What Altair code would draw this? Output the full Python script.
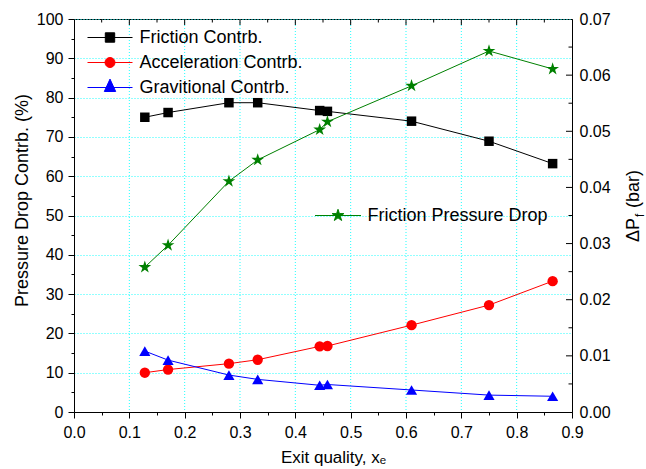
import altair as alt
import pandas as pd

FONT = "Liberation Sans"

# ---------------- data ----------------
x_exit = [0.128, 0.17, 0.28, 0.332, 0.444, 0.458, 0.61, 0.75, 0.865]
friction_pct = [75.0, 76.2, 78.7, 78.7, 76.7, 76.5, 74.0, 68.9, 63.2]
accel_pct = [10.0, 10.8, 12.3, 13.3, 16.7, 16.8, 22.1, 27.2, 33.3]
grav_pct = [15.5, 13.2, 9.4, 8.3, 6.8, 7.0, 5.6, 4.3, 4.0]
dp_friction = [0.0258, 0.0297, 0.0411, 0.0449, 0.0503, 0.0517, 0.0581, 0.0643, 0.0611]

series_left = ["Friction Contrb.", "Acceleration Contrb.", "Gravitional Contrb."]
series_right = "Friction Pressure Drop"
colors_left = ["#000000", "#ff0000", "#0000ff"]
color_right = "#008000"

x_ticks = [0.0, 0.05, 0.1, 0.15, 0.2, 0.25, 0.3, 0.35, 0.4, 0.45, 0.5,
           0.55, 0.6, 0.65, 0.7, 0.75, 0.8, 0.85, 0.9]
x_top_major = [0.1, 0.2, 0.3, 0.4, 0.5, 0.6, 0.7, 0.8]
x_top_minor = [0.05, 0.15, 0.25, 0.35, 0.45, 0.55, 0.65, 0.75, 0.85]
y_left_ticks = [0, 5, 10, 15, 20, 25, 30, 35, 40, 45, 50, 55, 60, 65, 70,
                75, 80, 85, 90, 95, 100]
y_right_labels = [0.0, 0.01, 0.02, 0.03, 0.04, 0.05, 0.06, 0.07]
y_right_major = [0.01, 0.02, 0.03, 0.04, 0.05, 0.06]
y_right_minor = [0.005, 0.015, 0.025, 0.035, 0.045, 0.055, 0.065]

W, H = 498, 393

rows = []
for name, vals in zip(series_left, [friction_pct, accel_pct, grav_pct]):
    for xv, v in zip(x_exit, vals):
        rows.append({"x": xv, "v": v, "series": name})
df_left = pd.DataFrame(rows)
df_right = pd.DataFrame({"x": x_exit, "dp": dp_friction, "series": [series_right] * len(x_exit)})

# ---------------- shapes ----------------
STAR = ("M0,-1L0.225,-0.309L0.951,-0.309L0.363,0.118L0.588,0.809L0,0.382"
        "L-0.588,0.809L-0.363,0.118L-0.951,-0.309L-0.225,-0.309Z")
LEG_SQ = "M-2.25,0H2.25M-0.47,-0.47H0.47V0.47H-0.47Z"
LEG_CI = "M-2.25,0H2.25M0.5,0A0.5,0.5,0,1,1,-0.5,0A0.5,0.5,0,1,1,0.5,0Z"
LEG_TR = "M-2.25,0H2.25M0,-0.84L0.57,0.4L-0.57,0.4Z"
LEG_ST = ("M-2.3,0H2.3M0,-0.62L0.14,-0.19L0.59,-0.19L0.225,0.073L0.365,0.5L0,0.237"
          "L-0.365,0.5L-0.225,0.073L-0.59,-0.19L-0.14,-0.19Z")

shape_expr = ("datum.value === '%s' ? '%s' : datum.value === '%s' ? '%s' : '%s'"
              % (series_left[0], LEG_SQ, series_left[1], LEG_CI, LEG_TR))
color_expr = ("datum.value === '%s' ? '%s' : datum.value === '%s' ? '%s' : '%s'"
              % (series_left[0], colors_left[0], series_left[1], colors_left[1], colors_left[2]))

GRID = "#22ffff"

x_scale = alt.Scale(domain=[0, 0.9], nice=False, zero=False)
yl_scale = alt.Scale(domain=[0, 100], nice=False, zero=False)
yr_scale = alt.Scale(domain=[0, 0.07], nice=False, zero=False)

x_major_test = "round(datum.value*100) % 10 === 0"
x_axis = alt.Axis(
    values=x_ticks,
    labelExpr="round(datum.value*100) % 10 === 0 ? format(datum.value, '.1f') : ''",
    tickSize={"condition": {"test": x_major_test, "value": 6}, "value": 3},
    grid=False,
    labelFont=FONT, labelFontSize=16, labelColor="black", labelPadding=6,
    labelFlush=False, labelOverlap=False,
    title="Exit quality, xₑ", titleFont=FONT, titleFontSize=17,
    titleFontWeight="normal", titleColor="black",
    titleX=259, titleY=50, titleBaseline="alphabetic", titleAlign="center",
    domainColor="black", tickColor="black",
)

yl_test = "datum.value % 10 === 0"
yl_axis = alt.Axis(
    values=y_left_ticks,
    labelExpr="datum.value % 10 === 0 ? datum.label : ''",
    tickSize={"condition": {"test": yl_test, "value": 6}, "value": 3},
    gridOpacity={"condition": {"test": yl_test, "value": 1}, "value": 0},
    grid=True, gridColor=GRID, gridDash=[1, 2], gridWidth=1,
    labelFont=FONT, labelFontSize=16, labelColor="black", labelPadding=5,
    labelOverlap=False, labelFlush=False,
    title="Pressure Drop Contrb. (%)", titleFont=FONT, titleFontSize=18,
    titleFontWeight="normal", titleColor="black",
    titleX=-52, titleY=181, titleAngle=270, titleAlign="center", titleBaseline="middle",
    domainColor="black", tickColor="black",
)

yr_axis = alt.Axis(
    orient="right", values=y_right_labels, format=".2f",
    ticks=False, tickSize=0, grid=False,
    labelFont=FONT, labelFontSize=16, labelColor="black", labelPadding=7,
    labelOverlap=False, labelFlush=False,
    title=None, domainColor="black",
)

legend_left = alt.Legend(
    orient="none", legendX=25.5, legendY=8, title=None, padding=0,
    labelFont=FONT, labelFontSize=18, labelColor="black", labelOffset=19, labelLimit=0,
    symbolSize=400, rowPadding=5, symbolStrokeWidth=1, symbolOpacity=1,
    symbolType=alt.ExprRef(expr=shape_expr),
    symbolFillColor=alt.ExprRef(expr=color_expr),
    symbolStrokeColor=alt.ExprRef(expr=color_expr),
)

legend_right = alt.Legend(
    orient="none", legendX=253.5, legendY=186, title=None, padding=0,
    labelFont=FONT, labelFontSize=18, labelColor="black", labelOffset=19, labelLimit=0,
    symbolSize=400, symbolStrokeWidth=1, symbolOpacity=1,
    symbolType=LEG_ST, symbolFillColor=color_right, symbolStrokeColor=color_right,
)

# vertical grid lines at the major x ticks
vgrid = alt.Chart(pd.DataFrame({"t": x_top_major})).mark_rule(
    color=GRID, strokeWidth=1, strokeDash=[1, 2]
).encode(x=alt.X("t:Q", scale=x_scale, axis=x_axis), y=alt.value(0), y2=alt.value(H))

cscale_left = alt.Scale(domain=series_left, range=colors_left)

base_left = alt.Chart(df_left).encode(
    x=alt.X("x:Q", scale=x_scale, axis=x_axis),
    y=alt.Y("v:Q", scale=yl_scale, axis=yl_axis),
)
line_left = base_left.mark_line(strokeWidth=1).encode(
    color=alt.Color("series:N", scale=cscale_left, legend=legend_left, sort=series_left)
)
pts_left = base_left.mark_point(filled=True, opacity=1, strokeWidth=0).encode(
    color=alt.Color("series:N", scale=cscale_left, legend=None),
    shape=alt.Shape("series:N", scale=alt.Scale(domain=series_left,
                    range=["square", "circle", "triangle-up"]), legend=None),
    size=alt.Size("series:N", scale=alt.Scale(domain=series_left, range=[90, 125, 150]),
                  legend=None),
)
left = alt.layer(line_left, pts_left)

cscale_right = alt.Scale(domain=[series_right], range=[color_right])
base_right = alt.Chart(df_right).encode(
    x=alt.X("x:Q", scale=x_scale, axis=x_axis),
    y=alt.Y("dp:Q", scale=yr_scale, axis=yr_axis),
)
line_right = base_right.mark_line(strokeWidth=1).encode(
    color=alt.Color("series:N", scale=cscale_right, legend=legend_right)
)
pts_right = base_right.mark_point(filled=True, opacity=1, strokeWidth=0, shape=STAR, size=180).encode(
    color=alt.Color("series:N", scale=cscale_right, legend=None)
)

# inward frame ticks (top and right)
top_major = alt.Chart(pd.DataFrame({"t": x_top_major})).mark_rule(color="black", strokeWidth=1).encode(
    x=alt.X("t:Q", scale=x_scale, axis=x_axis), y=alt.value(0), y2=alt.value(6))
top_minor = alt.Chart(pd.DataFrame({"t": x_top_minor})).mark_rule(color="black", strokeWidth=1).encode(
    x=alt.X("t:Q", scale=x_scale, axis=x_axis), y=alt.value(0), y2=alt.value(3.5))
right_major = alt.Chart(pd.DataFrame({"t": y_right_major})).mark_rule(color="black", strokeWidth=1).encode(
    x=alt.value(W - 6), x2=alt.value(W), y=alt.Y("t:Q", scale=yr_scale, axis=yr_axis))
right_minor = alt.Chart(pd.DataFrame({"t": y_right_minor})).mark_rule(color="black", strokeWidth=1).encode(
    x=alt.value(W - 3.5), x2=alt.value(W), y=alt.Y("t:Q", scale=yr_scale, axis=yr_axis))

right = alt.layer(line_right, pts_right, right_major, right_minor)

# right axis title with subscript
t1 = alt.Chart(pd.DataFrame({"t": ["ΔP"]})).mark_text(
    angle=270, align="left", baseline="alphabetic", font=FONT, fontSize=18, color="black"
).encode(text="t:N", x=alt.value(565), y=alt.value(223))
t2 = alt.Chart(pd.DataFrame({"t": ["f"]})).mark_text(
    angle=270, align="left", baseline="alphabetic", font=FONT, fontSize=12, color="black"
).encode(text="t:N", x=alt.value(570), y=alt.value(198))
t3 = alt.Chart(pd.DataFrame({"t": ["(bar)"]})).mark_text(
    angle=270, align="left", baseline="alphabetic", font=FONT, fontSize=18, color="black"
).encode(text="t:N", x=alt.value(565), y=alt.value(189))

chart = alt.layer(vgrid, left, right, top_major, top_minor, t1, t2, t3).resolve_scale(
    y="independent", color="independent"
).properties(
    width=W, height=H,
    autosize=alt.AutoSizeParams(type="none"),
    padding={"left": 74, "top": 19, "right": 74, "bottom": 57},
    background="white",
).configure_view(stroke="black", strokeWidth=1)

chart.save("out.html", embed_options={"renderer": "svg", "actions": False})
